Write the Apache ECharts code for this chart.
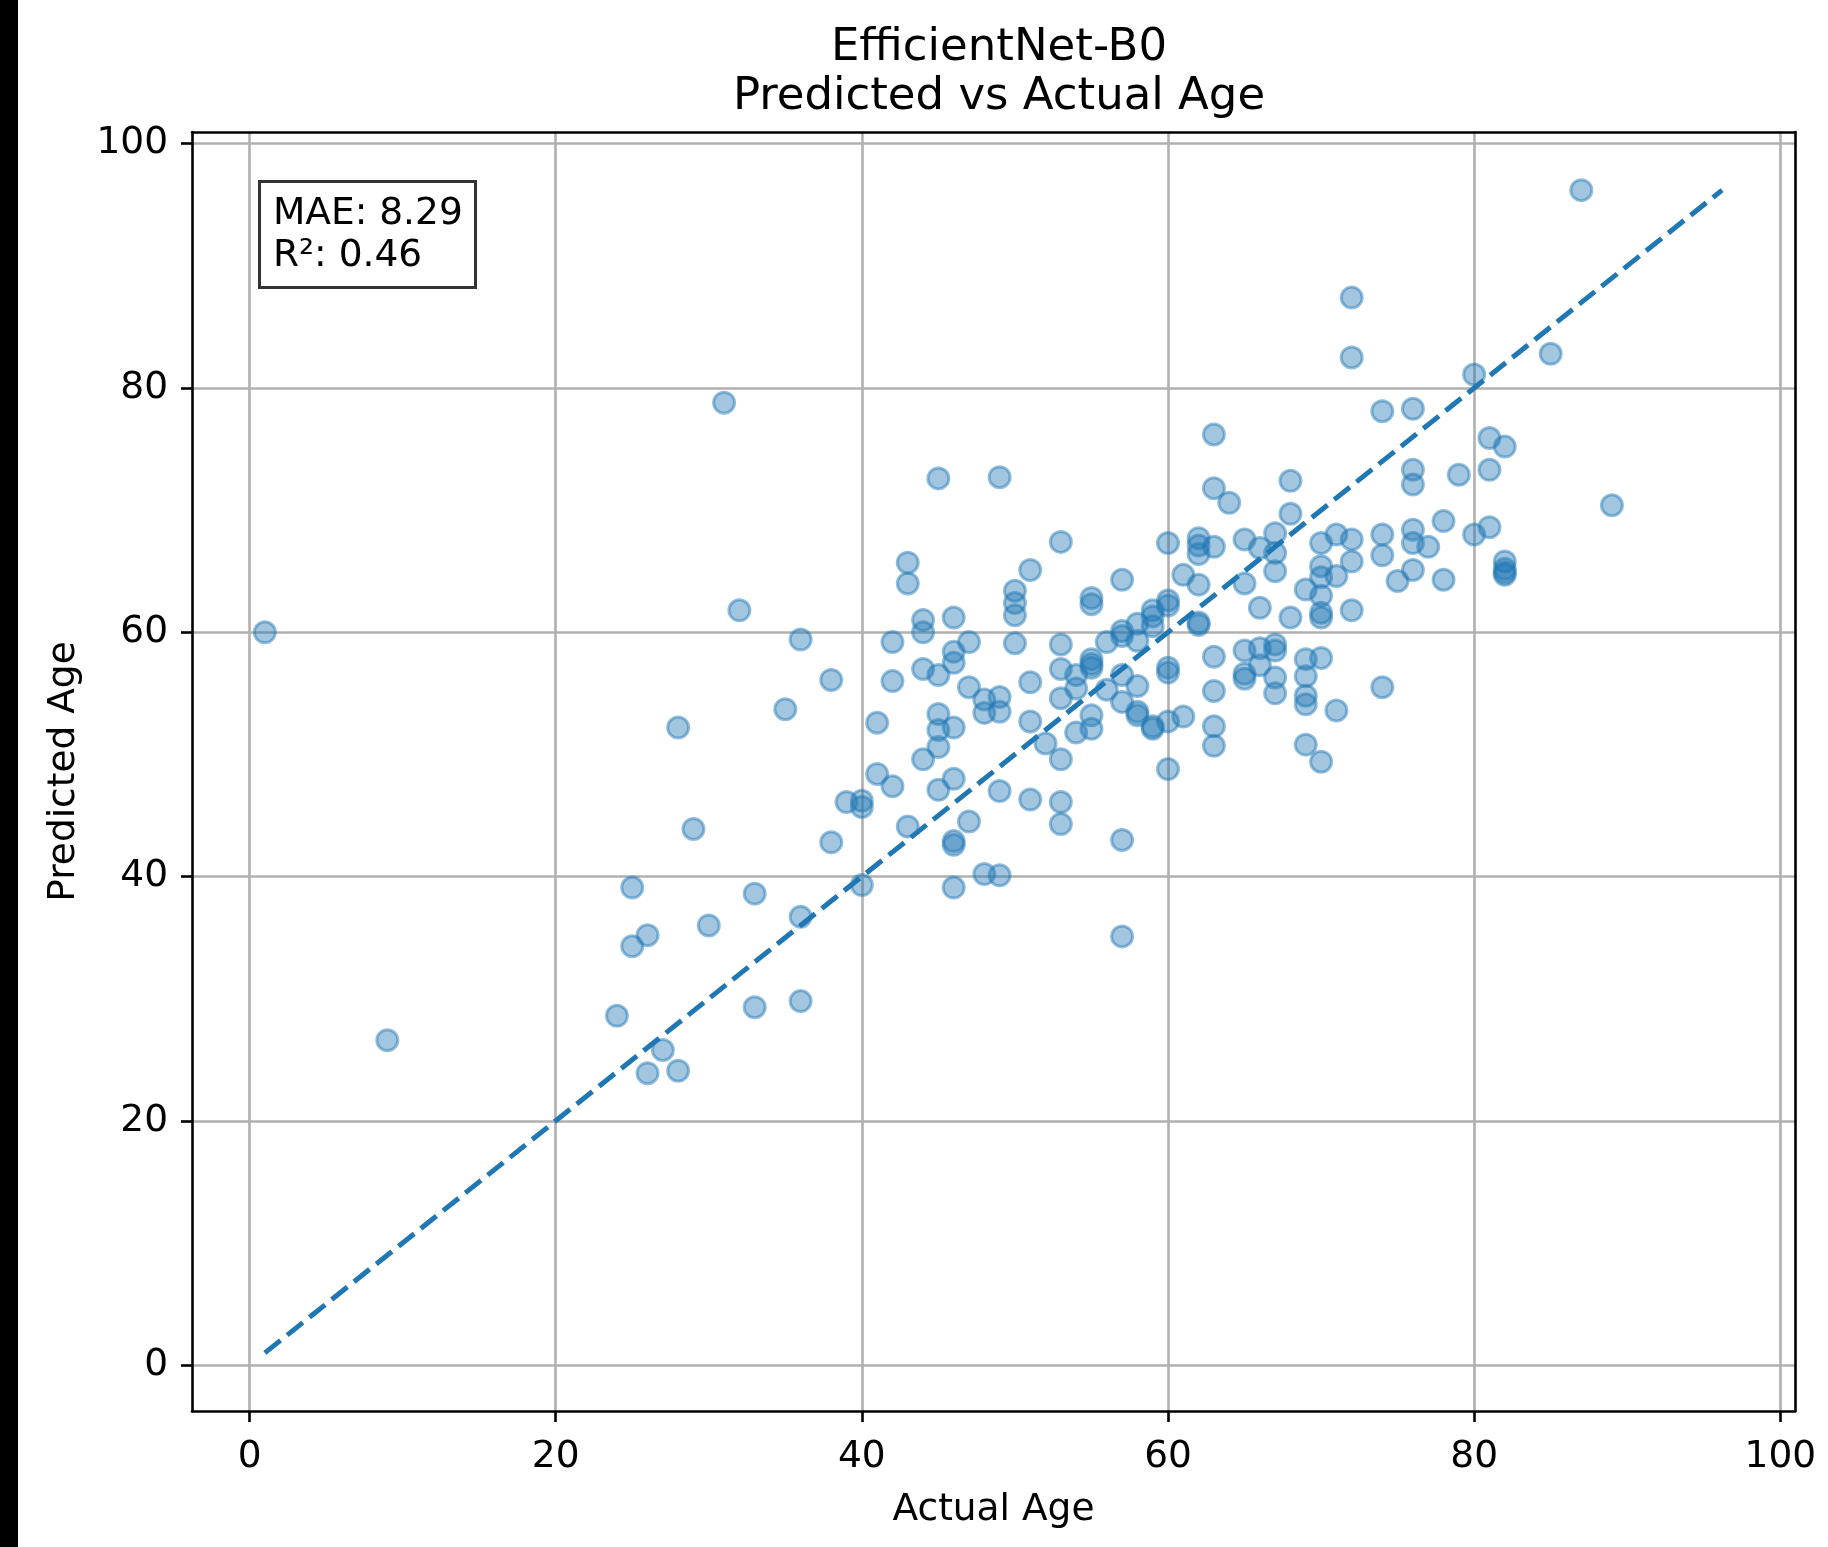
<!DOCTYPE html>
<html>
<head>
<meta charset="utf-8">
<script src="https://cdn.jsdelivr.net/npm/echarts@6/dist/echarts.min.js"></script>
<style>
  html, body { margin: 0; padding: 0; background: #fff; }
  #chart-container { width: 1828px; height: 1547px; }
</style>
</head>
<body>
<div id="chart-container"></div>
<script>
// actual vs predicted ages
var actualAge = [
  1, 9, 24, 25, 25, 26, 26, 27, 28, 28, 29, 30, 31, 32, 33, 33, 35, 36, 36, 36,
  38, 38, 39, 40, 40, 40, 41, 41, 42, 42, 42, 43, 43, 43, 44, 44, 44, 44,
  45, 45, 45, 45, 45, 45, 46, 46, 46, 46, 46, 46, 46, 46, 47, 47, 47,
  48, 48, 48, 49, 49, 49, 49, 49, 50, 50, 50, 50, 51, 51, 51, 51, 52,
  53, 53, 53, 53, 53, 53, 53, 54, 54, 54, 55, 55, 55, 55, 55, 55, 55, 56, 56,
  57, 57, 57, 57, 57, 57, 57, 58, 58, 58, 58, 58, 59, 59, 59, 59, 59,
  60, 60, 60, 60, 60, 60, 60, 61, 61, 62, 62, 62, 62, 62, 62,
  63, 63, 63, 63, 63, 63, 63, 64, 65, 65, 65, 65, 65, 66, 66, 66, 66,
  67, 67, 67, 67, 67, 67, 67, 68, 68, 68, 69, 69, 69, 69, 69, 69,
  70, 70, 70, 70, 70, 70, 70, 70, 71, 71, 71, 72, 72, 72, 72, 72,
  74, 74, 74, 74, 75, 76, 76, 76, 76, 76, 76, 77, 78, 78, 79, 80, 80,
  81, 81, 81, 82, 82, 82, 82, 82, 85, 87, 89
];
var predictedAge = [
  60.0, 26.6, 28.6, 39.1, 34.3, 35.2, 23.9, 25.8, 52.2, 24.1, 43.9, 36.0, 78.8, 61.8, 38.6, 29.3, 53.7, 59.4, 36.7, 29.8,
  56.1, 42.8, 46.1, 46.2, 45.7, 39.3, 52.6, 48.4, 59.2, 56.0, 47.4, 65.7, 64.0, 44.1, 61.0, 60.0, 57.0, 49.6,
  72.6, 56.5, 53.3, 52.0, 50.6, 47.1, 61.2, 58.4, 57.5, 52.2, 48.0, 42.9, 42.6, 39.1, 59.2, 55.5, 44.5,
  54.5, 53.4, 40.2, 72.7, 54.7, 53.5, 47.0, 40.1, 63.4, 62.4, 61.4, 59.1, 65.1, 55.9, 52.7, 46.3, 50.9,
  67.4, 59.0, 57.0, 54.6, 49.6, 46.1, 44.3, 56.5, 55.4, 51.8, 62.8, 62.3, 57.8, 57.4, 57.1, 53.2, 52.1, 59.2, 55.3,
  64.3, 60.1, 59.7, 56.5, 54.3, 43.0, 35.1, 60.7, 59.3, 55.6, 53.5, 53.2, 61.8, 61.3, 60.5, 52.3, 52.1,
  67.3, 62.6, 62.2, 57.1, 56.7, 52.7, 48.8, 64.7, 53.1, 67.7, 67.1, 66.4, 63.9, 60.8, 60.6,
  76.2, 71.8, 67.0, 58.0, 55.2, 52.3, 50.7, 70.6, 67.6, 64.0, 58.5, 56.6, 56.2, 66.9, 62.0, 58.7, 57.3,
  68.1, 66.5, 65.0, 59.0, 58.5, 56.3, 55.0, 72.4, 69.7, 61.2, 63.5, 57.8, 56.4, 54.8, 54.1, 50.8,
  67.3, 65.4, 64.5, 63.0, 61.6, 61.2, 57.9, 49.4, 68.0, 64.6, 53.6, 87.4, 82.5, 67.6, 65.8, 61.8,
  78.1, 68.0, 66.3, 55.5, 64.2, 78.3, 73.3, 72.1, 68.4, 67.3, 65.1, 67.0, 69.1, 64.3, 72.9, 81.1, 68.0,
  75.9, 73.3, 68.6, 75.2, 65.8, 65.2, 64.9, 64.7, 82.8, 96.2, 70.4
];
var tickValues = [0, 20, 40, 60, 80, 100];
// ideal y = x line ends
var lineStart = 1;
var lineEnd = 96.2;
var statsText = 'MAE: 8.29\nR²: 0.46';
var chartTitle = 'EfficientNet-B0\nPredicted vs Actual Age';

var points = actualAge.map(function(a, i) { return [a, predictedAge[i]]; });
var font = 'DejaVu Sans';
var blue = '#1f77b4';
var axMin = -3.76, axMax = 100.96;

var myChart = echarts.init(document.getElementById('chart-container'));

function tickFmt(v) {
  return (Math.abs(v % 20) < 1e-9) ? String(v) : '';
}

// frame-only axis for the top / right spines
function frameAxis(pos) {
  return {
    type: 'value', position: pos, min: axMin, max: axMax,
    axisLine: { show: true, onZero: false, lineStyle: { color: '#000', width: 2.6 } },
    axisTick: { show: false }, axisLabel: { show: false }, splitLine: { show: false }
  };
}

var option = {
  animation: false,
  backgroundColor: '#fff',
  title: [
    {
      text: chartTitle,
      left: 994,
      top: 19,
      textAlign: 'center',
      textStyle: { fontFamily: font, fontSize: 45, fontWeight: 'normal', color: '#000', lineHeight: 49 }
    },
    {
      text: statsText,
      left: 259,
      top: 181,
      padding: [12, 13, 11, 14],
      borderColor: '#333',
      borderWidth: 3,
      backgroundColor: '#fff',
      textStyle: { fontFamily: font, fontSize: 37.5, fontWeight: 'normal', color: '#000', lineHeight: 42 }
    }
  ],
  grid: {
    left: 192, right: 33, top: 132, bottom: 136,
    show: false
  },
  xAxis: [{
    type: 'value',
    min: axMin,
    max: axMax,
    splitNumber: 5,
    name: 'Actual Age',
    nameLocation: 'middle',
    nameGap: 80,
    nameTextStyle: { fontFamily: font, fontSize: 37.5, color: '#000' },
    axisLine: { show: true, onZero: false, lineStyle: { color: '#000', width: 2.6 } },
    axisTick: { show: true, length: 11, customValues: tickValues, lineStyle: { color: '#000', width: 2.6 } },
    axisLabel: { fontFamily: font, fontSize: 37.5, color: '#000', margin: 27, customValues: tickValues, formatter: tickFmt },
    splitLine: { show: true, lineStyle: { color: '#b0b0b0', width: 2.6 } }
  }, frameAxis('top')],
  yAxis: [{
    type: 'value',
    min: axMin,
    max: axMax,
    splitNumber: 5,
    name: 'Predicted Age',
    nameLocation: 'middle',
    nameGap: 109,
    nameRotate: 90,
    nameTextStyle: { fontFamily: font, fontSize: 37.5, color: '#000' },
    axisLine: { show: true, onZero: false, lineStyle: { color: '#000', width: 2.6 } },
    axisTick: { show: true, length: 11, customValues: tickValues, lineStyle: { color: '#000', width: 2.6 } },
    axisLabel: { fontFamily: font, fontSize: 37.5, color: '#000', margin: 24, customValues: tickValues, formatter: tickFmt },
    splitLine: { show: true, lineStyle: { color: '#b0b0b0', width: 2.6 } }
  }, frameAxis('right')],
  graphic: [
    { type: 'rect', left: 0, top: 0, shape: { width: 18, height: 1547 }, style: { fill: '#000' }, z: 100 }
  ],
  series: [
    {
      type: 'scatter',
      data: points,
      symbolSize: 21,
      itemStyle: { color: 'rgba(31,119,180,0.52)', borderColor: 'rgba(31,119,180,0.6)', borderWidth: 3 }
    },
    {
      type: 'line',
      data: [[lineStart, lineStart], [lineEnd, lineEnd]],
      symbol: 'none',
      lineStyle: { color: blue, width: 5, type: [20, 8.5] }
    }
  ]
};
myChart.setOption(option);
</script>
</body>
</html>
